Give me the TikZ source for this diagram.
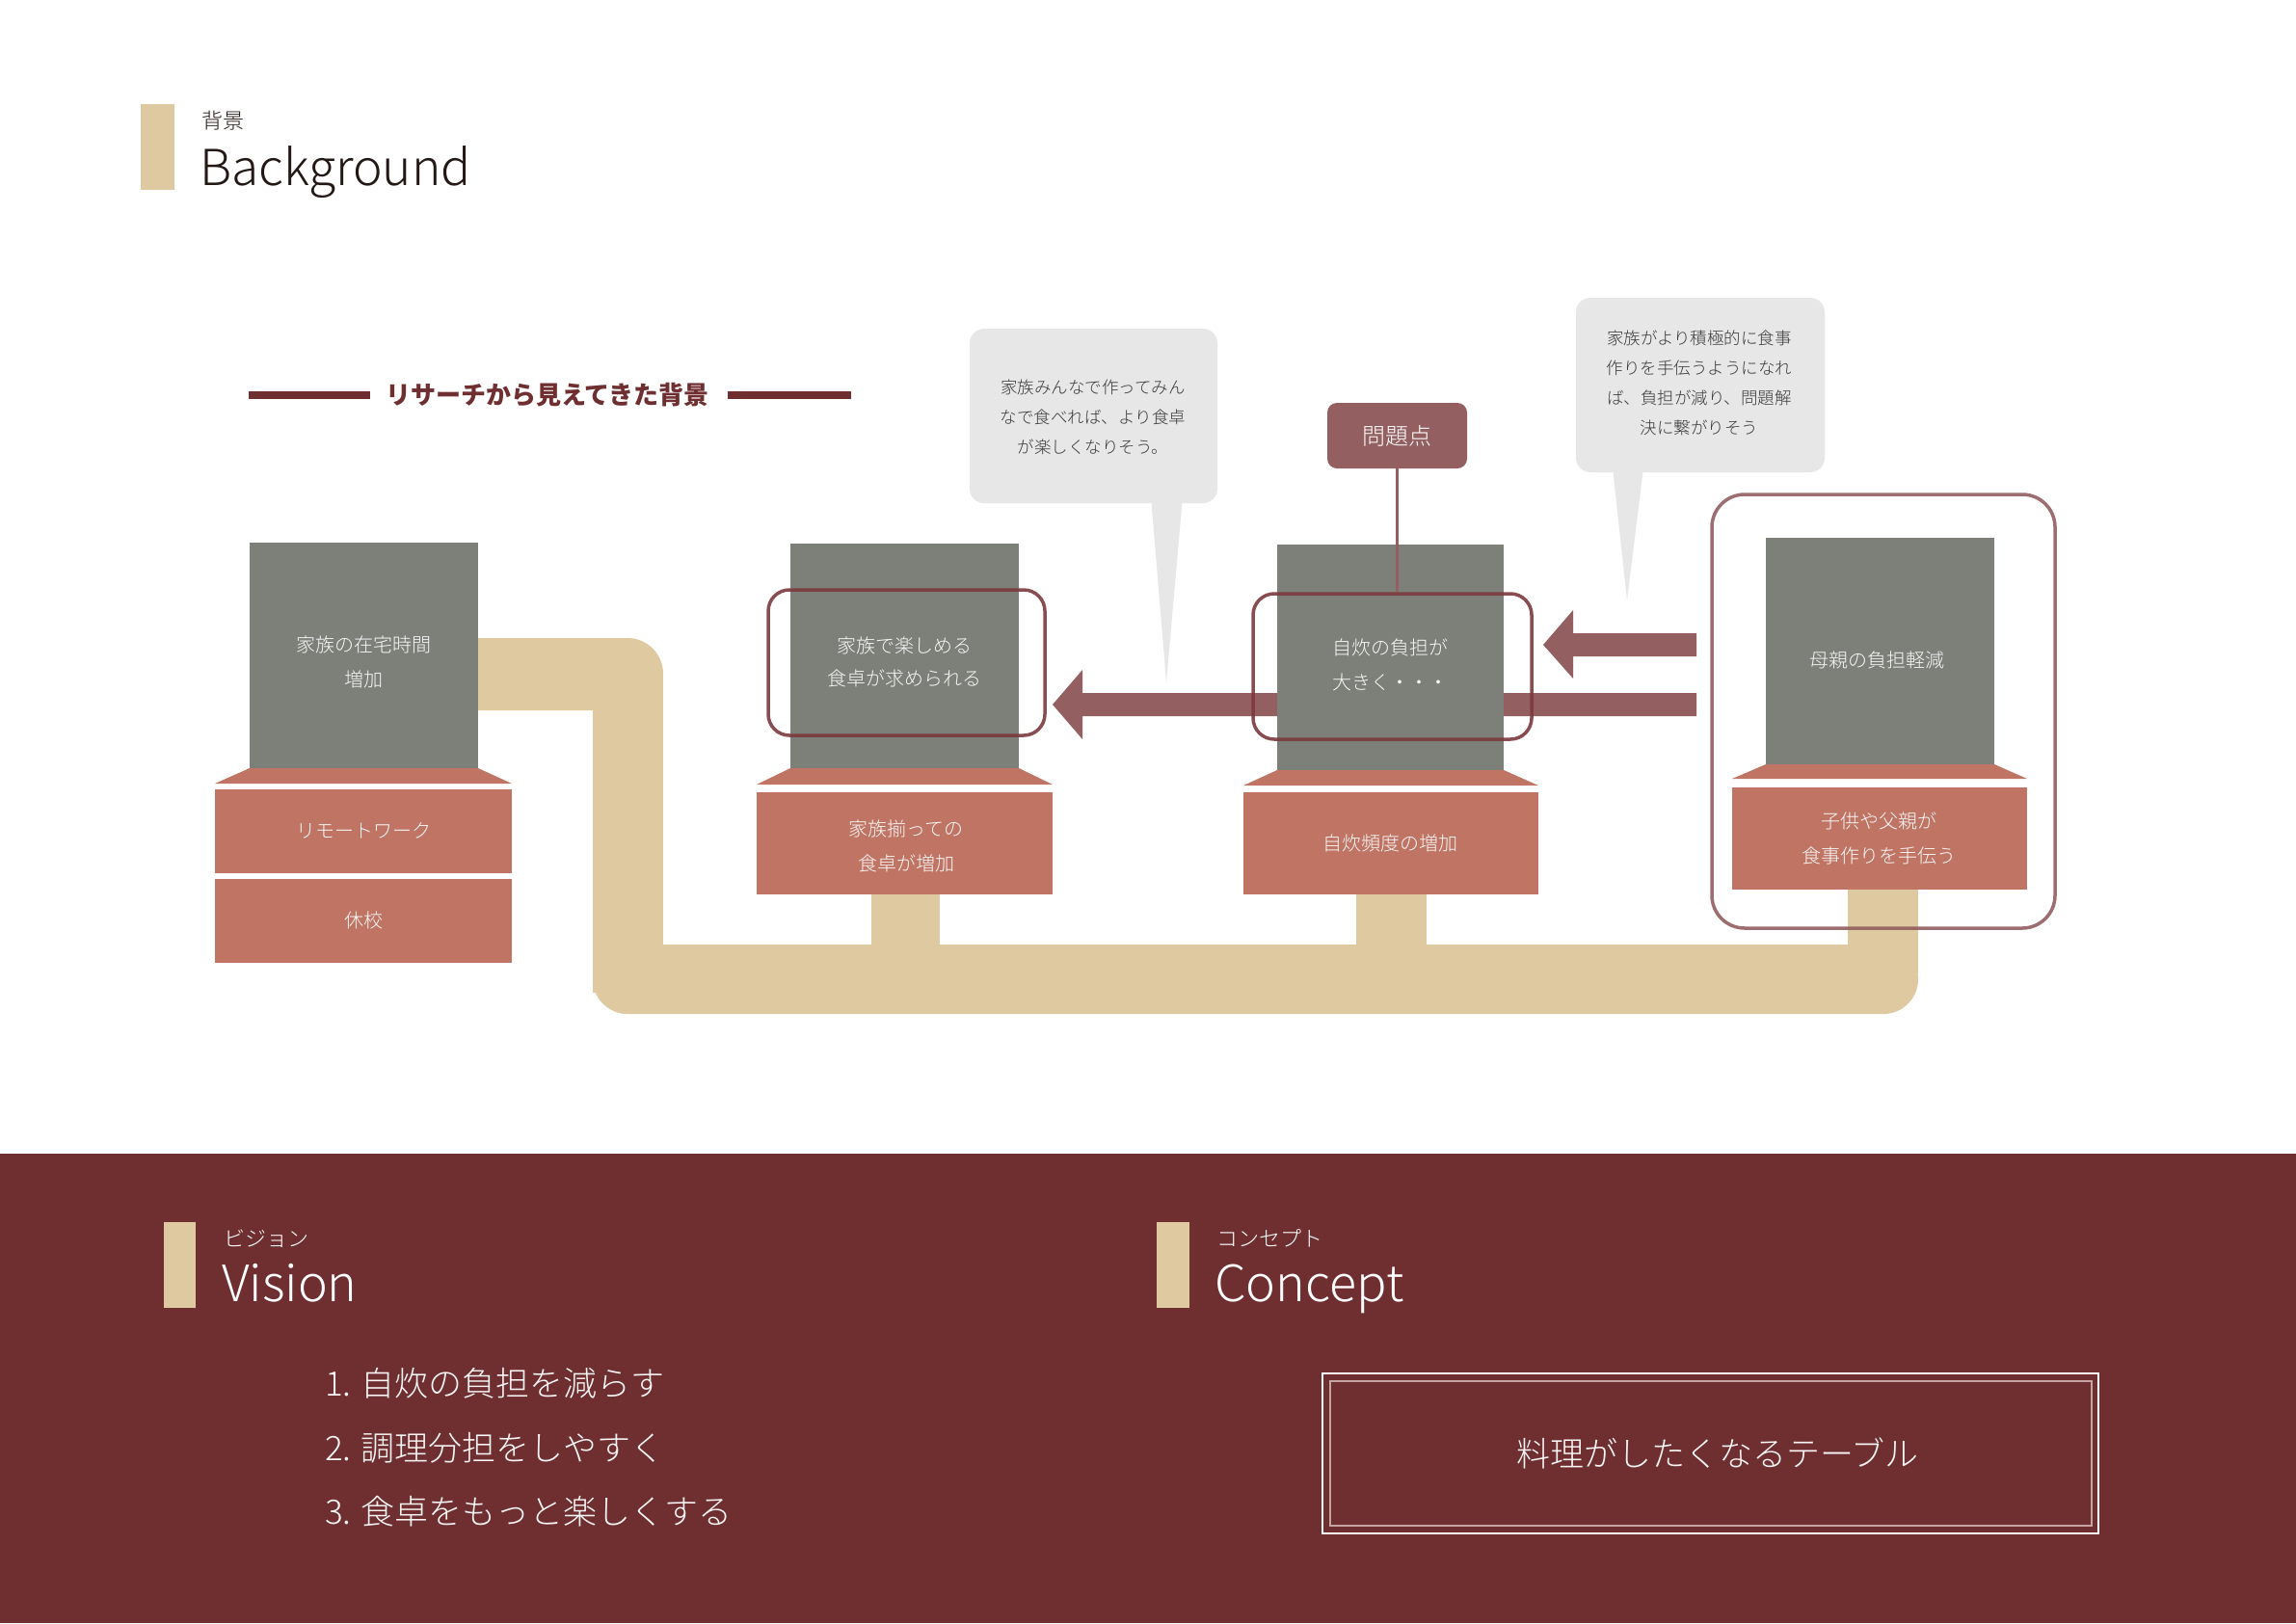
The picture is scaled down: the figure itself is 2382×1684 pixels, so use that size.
\documentclass[tikz,border=0pt]{standalone}
\usepackage{fontspec}
\setmainfont{Noto Sans CJK JP}
\newfontfamily\lightjp{Noto Sans CJK JP Light}
\definecolor{tanc}{HTML}{DFC9A0}
\definecolor{grayc}{HTML}{7C8078}
\definecolor{salmon}{HTML}{C07564}
\definecolor{bandc}{HTML}{6F2E30}
\definecolor{arrowc}{HTML}{935F60}
\definecolor{bubblec}{HTML}{E6E7E6}
\definecolor{outc}{HTML}{7B3A3D}
\definecolor{darktxt}{HTML}{231815}
\definecolor{bubtxt}{HTML}{3A3A3A}
\definecolor{framein}{HTML}{C4A3A3}
\tikzset{
  boxtxt/.style={inner sep=0pt, align=center, text=white!94!gray, font=\lightjp\fontsize{20}{36}\selectfont},
  bubtext/.style={inner sep=0pt, align=center, text=bubtxt, font=\lightjp\fontsize{17.5}{31}\selectfont},
  outl/.style={draw=outc, draw opacity=0.9, line width=3.5, rounded corners=#1, inner sep=0pt, fill=none},
  headjp/.style={inner sep=0pt, anchor=west, font=\lightjp\fontsize{22}{26}\selectfont},
  headen/.style={inner sep=0pt, anchor=base west, font=\lightjp\fontsize{52}{60}\selectfont},
  vlist/.style={inner sep=0pt, anchor=west, text=white!95!bandc, font=\lightjp\fontsize{35}{40}\selectfont}
}
\begin{document}
\begin{tikzpicture}[x=1pt,y=-1pt]
\useasboundingbox (0,0) rectangle (2382,1684);
\fill[white] (0,0) rectangle (2382,1684);

% ---------- header ----------
\fill[tanc] (146,108) rectangle (181,197);
\node[headjp, text=darktxt] (hjp) at (209,125) {背景};
\node[headen, text=darktxt, font=\lightjp\fontsize{51.5}{60}\selectfont] (hen) at (207,192) {Background};

% ---------- research title ----------
\node[inner sep=0pt, text=bandc, font=\fontsize{26}{30}\selectfont\bfseries] (rt) at (568,410) {リサーチから見えてきた背景};
\draw[bandc, line width=8] (258,410) -- (384,410);
\draw[bandc, line width=8] (755,410) -- (883,410);

% ---------- tan pipe ----------
\fill[tanc, rounded corners=37] (450,662) rectangle (688,737);
\fill[tanc] (615,700) rectangle (688,1030);
\fill[tanc, rounded corners=36] (615,980) rectangle (1990,1052);
\fill[tanc] (1917,900) rectangle (1990,1010);
\fill[tanc] (904,920) rectangle (975,990);
\fill[tanc] (1407,920) rectangle (1480,990);

% ---------- speech bubbles ----------
\fill[bubblec, rounded corners=15] (1006,341) rectangle (1263,522);
\fill[bubblec] (1194,515) -- (1227,515) -- (1210,708) -- cycle;
\node[bubtext] (b1) at (1134,433) {家族みんなで作ってみん\\なで食べれば、より食卓\\が楽しくなりそう。};
\fill[bubblec, rounded corners=15] (1635,309) rectangle (1893,490);
\fill[bubblec] (1673,485) -- (1705,485) -- (1688,623) -- cycle;
\node[bubtext] (b2) at (1763,397) {家族がより積極的に食事\\作りを手伝うようになれ\\ば、負担が減り、問題解\\決に繋がりそう};

% ---------- arrows ----------
\fill[arrowc] (1760,719) -- (1123,719) -- (1123,695) -- (1092,731) -- (1123,767) -- (1123,743) -- (1760,743) -- cycle;
\fill[arrowc] (1760,657) -- (1632,657) -- (1632,633) -- (1601,669) -- (1632,704) -- (1632,681) -- (1760,681) -- cycle;

% ---------- box 1 ----------
\fill[grayc] (259,563) rectangle (496,800);
\fill[salmon] (259,797) -- (496,797) -- (531,813) -- (223,813) -- cycle;
\fill[salmon] (223,819) rectangle (531,906);
\fill[salmon] (223,912) rectangle (531,999);
\node[boxtxt] (g1) at (377,687) {家族の在宅時間\\増加};
\node[boxtxt] (s1a) at (377,862) {リモートワーク};
\node[boxtxt] (s1b) at (377,955) {休校};

% ---------- box 2 ----------
\fill[grayc] (820,564) rectangle (1057,800);
\fill[salmon] (820,797) -- (1057,797) -- (1092,814) -- (785,814) -- cycle;
\fill[salmon] (785,822) rectangle (1092,928);
\node[boxtxt, font=\lightjp\fontsize{20}{34}\selectfont] (g2) at (938,687) {家族で楽しめる\\食卓が求められる};
\node[boxtxt] (s2) at (940,878) {家族揃っての\\食卓が増加};

% ---------- box 3 ----------
\fill[grayc] (1325,565) rectangle (1560,802);
\fill[salmon] (1325,799) -- (1560,799) -- (1596,815) -- (1290,815) -- cycle;
\fill[salmon] (1290,822) rectangle (1596,928);
\node[boxtxt] (g3) at (1442,690) {自炊の負担が\\大きく・・・};
\node[boxtxt] (s3) at (1442,875) {自炊頻度の増加};

% ---------- box 4 ----------
\fill[grayc] (1832,558) rectangle (2069,796);
\fill[salmon] (1832,793) -- (2069,793) -- (2103,808) -- (1797,808) -- cycle;
\fill[salmon] (1797,817) rectangle (2103,923);
\node[boxtxt] (g4) at (1947,685) {母親の負担軽減};
\node[boxtxt] (s4) at (1949,870) {子供や父親が\\食事作りを手伝う};

% ---------- hand-drawn outlines ----------
\node[outl=22, minimum width=287, minimum height=151] (o2) at (940.5,687.5) {};
\node[outl=22, minimum width=289, minimum height=151] (o3) at (1444.5,691.5) {};
\node[outl=34, minimum width=356, minimum height=450, draw=arrowc] (o4) at (1954,738) {};

% ---------- problem label ----------
\node[fill=arrowc, rounded corners=10, minimum width=145, minimum height=68, inner sep=0pt,
      text=white, font=\lightjp\fontsize{24}{28}\selectfont] (pb) at (1449.5,452) {問題点};
\draw[arrowc, line width=3.5] (pb.south) -- (pb.south |- o3.north);

% ---------- bottom band ----------
\fill[bandc] (0,1197) rectangle (2382,1684);

\fill[tanc] (170,1268) rectangle (203,1357);
\node[headjp, text=white] (vjp) at (232,1285) {ビジョン};
\node[headen, text=white] (ven) at (230,1350) {Vision};
\node[vlist] (v1) at (337,1435) {1. 自炊の負担を減らす};
\node[vlist] (v2) at (337,1502) {2. 調理分担をしやすく};
\node[vlist] (v3) at (337,1568) {3. 食卓をもっと楽しくする};

\fill[tanc] (1200,1268) rectangle (1234,1357);
\node[headjp, text=white] (cjp) at (1262,1285) {コンセプト};
\node[headen, text=white] (cen) at (1260,1350) {Concept};
\draw[white, line width=1.5] (1372,1425) rectangle (2177,1591);
\draw[framein, line width=2.5] (1380,1433) rectangle (2170,1583);
\node[inner sep=0pt, text=white!95!bandc, font=\lightjp\fontsize{35}{40}\selectfont] (ct) at (1782,1508) {料理がしたくなるテーブル};
\end{tikzpicture}
\end{document}
